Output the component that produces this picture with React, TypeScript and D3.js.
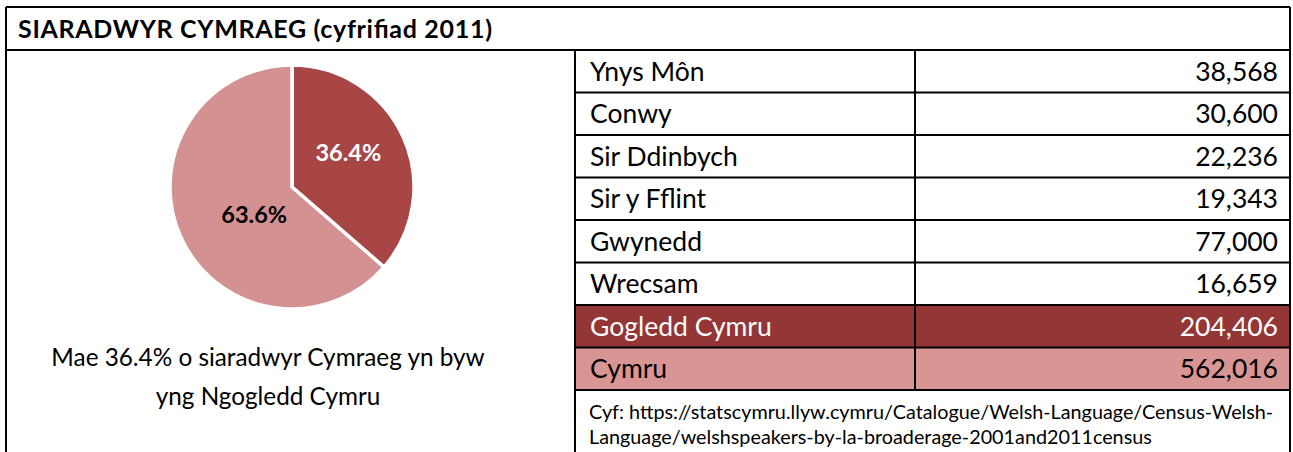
import React from "react";
import * as d3 from "d3";

const title = "SIARADWYR CYMRAEG (cyfrifiad 2011)";
const pieLabels = ["Gogledd Cymru", "Gweddill Cymru"];
const pieValues = [36.4, 63.6];
const regions = ["Ynys Môn", "Conwy", "Sir Ddinbych", "Sir y Fflint", "Gwynedd", "Wrecsam", "Gogledd Cymru", "Cymru"];
const speakers = [38568, 30600, 22236, 19343, 77000, 16659, 204406, 562016];
const captionLines = ["Mae 36.4% o siaradwyr Cymraeg yn byw", "yng Ngogledd Cymru"];
const sourceLines = [
  "Cyf: https://statscymru.llyw.cymru/Catalogue/Welsh-Language/Census-Welsh-",
  "Language/welshspeakers-by-la-broaderage-2001and2011census",
];

const W = 1293;
const H = 452;
const FONT = "Lato, 'Open Sans', sans-serif";

export default function App() {
  const left = 6, right = 1290, top = 7, titleBottom = 50;
  const tableX = 575, colX = 915, rowH = 42.5;
  const cx = 292, cy = 187, R = 122;

  const pie = d3.pie<number>().sort(null).startAngle(0).endAngle(2 * Math.PI);
  const arcs = pie(pieValues);
  const arc = d3.arc<d3.PieArcDatum<number>>().innerRadius(0).outerRadius(R);
  const pieColors = ["#A84646", "#D39191"];
  const labelR = [66, 47];
  const labelShift = [-7, -12];
  const labelColor = ["#ffffff", "#000000"];
  const fmt = d3.format(",");
  const y = d3.scaleBand<number>().domain(d3.range(regions.length)).range([titleBottom, titleBottom + rowH * regions.length]).padding(0);
  const rowFill = (i: number) => (i === 6 ? "#943635" : i === 7 ? "#D99594" : "#ffffff");
  const rowText = (i: number) => (i === 6 ? "#ffffff" : "#000000");
  const tableBottom = titleBottom + rowH * regions.length;

  return (
    <svg width={W} height={H} style={{ position: "absolute", left: 0, top: 0, background: "#fff" }} fontFamily={FONT}>
      <rect x={0} y={0} width={W} height={H} fill="#fff" />
      {regions.map((r, i) => (
        <rect key={"f" + i} x={tableX} y={y(i)!} width={right - tableX} height={y.bandwidth()} fill={rowFill(i)} />
      ))}
      <text x={18} y={29} dy="0.35em" fontSize={25} fontWeight={700} fill="#000" textLength={474} lengthAdjust="spacing">{title}</text>
      <g transform={`translate(${cx},${cy})`}>
        {arcs.map((a, i) => (
          <path key={i} d={arc(a) || ""} fill={pieColors[i]} stroke="#fff" strokeWidth={3.5} strokeLinejoin="miter" />
        ))}
        {arcs.map((a, i) => {
          const mid = (a.startAngle + a.endAngle) / 2 + (labelShift[i] * Math.PI) / 180;
          const lx = Math.sin(mid) * labelR[i];
          const ly = -Math.cos(mid) * labelR[i];
          return (
            <text key={"l" + i} x={lx} y={ly} dy="0.35em" textAnchor="middle" fontSize={23.5} fontWeight={700} fill={labelColor[i]}>
              {pieValues[i].toFixed(1)}%
            </text>
          );
        })}
      </g>
      {captionLines.map((l, i) => (
        <text key={"c" + i} x={268} y={357 + i * 39} dy="0.35em" textAnchor="middle" fontSize={24.3} fill="#000">{l}</text>
      ))}
      {regions.map((r, i) => (
        <g key={"t" + i}>
          <text x={590} y={y(i)! + rowH / 2} dy="0.35em" fontSize={26.5} fill={rowText(i)}>{r}</text>
          <text x={1278} y={y(i)! + rowH / 2} dy="0.35em" textAnchor="end" fontSize={26.5} fill={rowText(i)}>{fmt(speakers[i])}</text>
        </g>
      ))}
      {sourceLines.map((l, i) => (
        <text key={"s" + i} x={589} y={412 + i * 25} dy="0.35em" fontSize={19.8} fill="#000">{l}</text>
      ))}
      <g stroke="#000" strokeWidth={2} fill="none">
        <line x1={left} y1={top} x2={right} y2={top} />
        <line x1={left} y1={top} x2={left} y2={H} />
        <line x1={right} y1={top} x2={right} y2={H} />
        <line x1={left} y1={titleBottom} x2={right} y2={titleBottom} />
        <line x1={tableX} y1={titleBottom} x2={tableX} y2={H} />
        <line x1={colX} y1={titleBottom} x2={colX} y2={tableBottom} />
        {regions.map((r, i) => (
          <line key={"h" + i} x1={tableX} y1={y(i)! + rowH} x2={right} y2={y(i)! + rowH} />
        ))}
      </g>
    </svg>
  );
}
